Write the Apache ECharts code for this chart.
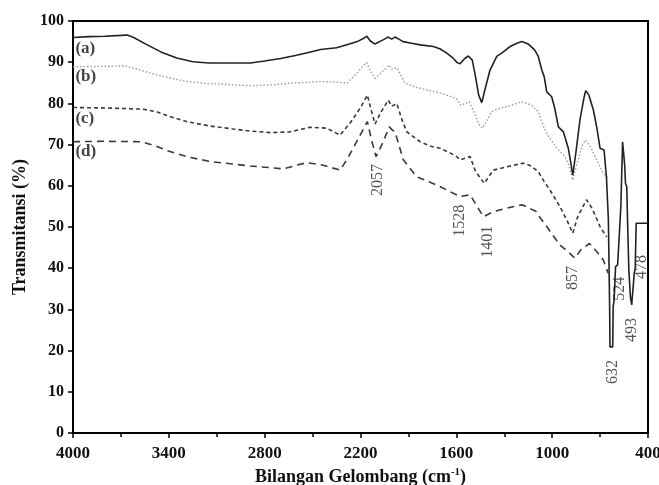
<!DOCTYPE html>
<html>
<head>
<meta charset="utf-8">
<script src="https://cdn.jsdelivr.net/npm/echarts@6/dist/echarts.min.js"></script>
<style>html,body{margin:0;padding:0;background:#fff}#c{width:659px;height:485px}</style>
</head>
<body>
<div id="c"></div>
<script>
// wavenumber (cm^-1) and transmittance (%) for each spectrum
const waveA = [4000,3900,3800,3700,3660,3620,3550,3450,3350,3250,3150,3000,2890,2800,2700,2600,2500,2450,2350,2280,2220,2180,2160,2140,2110,2080,2050,2026,2005,1984,1960,1934,1880,1827,1744,1700,1660,1620,1598,1577,1550,1525,1500,1480,1460,1441,1420,1389,1347,1316,1264,1220,1191,1149,1110,1087,1065,1050,1034,1003,985,961,930,899,885,871,850,826,800,790,770,742,720,700,675,660,648,640,638,621,618,612,603,590,580,570,559,553,546,541,533,527,520,510,502,494,486,480,474,400];
const valA  = [96.0,96.2,96.3,96.5,96.6,96.0,94.5,92.5,91.0,90.1,89.8,89.8,89.8,90.3,90.9,91.7,92.6,93.1,93.5,94.3,95.0,95.8,96.3,95.2,94.4,95.0,95.6,96.1,95.6,96.1,95.6,95.0,94.6,94.2,93.8,93.2,92.2,91.0,90.0,89.6,90.8,91.5,90.5,86.5,82.0,80.2,83.5,88.1,91.4,92.2,93.8,94.6,95.0,94.4,93.0,91.4,88.1,86.5,82.8,81.6,79.0,74.3,73.1,69.1,66.0,62.6,68.5,76.0,81.5,83.1,82.0,78.4,74.0,69.1,68.7,62.0,51.7,30.0,20.9,20.9,30.7,32.3,40.4,40.8,41.2,55.0,70.7,70.7,65.0,60.6,59.8,50.0,39.6,33.0,31.1,30.7,38.8,40.0,50.9,50.9];

const waveB = [4000,3800,3674,3600,3500,3400,3300,3184,3000,2892,2750,2641,2454,2350,2286,2223,2180,2161,2140,2109,2070,2020,2005,1973,1950,1921,1850,1786,1700,1660,1600,1573,1519,1490,1460,1435,1400,1379,1327,1260,1191,1129,1087,1060,1034,972,920,895,871,840,810,790,760,732,680,650];
const valB  = [88.9,89.0,89.1,88.3,87.2,86.2,85.4,84.9,84.5,84.3,84.5,84.9,85.3,85.2,84.9,87.3,89.3,89.9,88.0,86.1,87.5,89.3,88.3,88.7,87.0,84.9,83.9,83.3,82.5,82.0,81.2,79.5,80.4,78.0,75.0,74.0,76.5,78.0,78.8,79.5,80.4,79.6,78.0,75.0,72.7,69.1,67.1,65.0,61.4,66.0,70.0,71.1,69.5,67.1,63.0,61.8];

const waveC = [4000,3800,3560,3480,3393,3280,3142,3000,2892,2760,2641,2516,2412,2328,2260,2200,2157,2130,2109,2070,2026,2005,1973,1940,1910,1827,1760,1702,1640,1598,1577,1514,1480,1425,1369,1285,1181,1130,1087,1050,1014,951,900,871,840,785,750,700,659];
const valC  = [79.0,78.9,78.6,78.0,76.8,75.5,74.5,73.8,73.3,72.9,73.1,74.2,74.0,72.3,75.5,79.0,82.0,78.0,75.0,78.0,80.8,79.3,80.0,76.0,73.1,70.7,69.6,69.1,68.0,67.1,66.3,67.1,63.5,60.6,63.8,64.6,65.5,64.8,63.4,61.0,59.0,54.9,51.0,48.5,52.5,56.6,54.5,50.1,47.6];

const waveD = [4000,3800,3570,3480,3393,3280,3142,3000,2892,2760,2683,2600,2537,2433,2328,2286,2220,2157,2130,2103,2060,2020,2000,1984,1932,1848,1723,1619,1577,1514,1470,1431,1369,1280,1201,1181,1097,1080,1034,951,889,857,820,767,720,680,650];
const valD  = [70.7,70.8,70.7,69.6,68.3,67.0,65.9,65.3,64.8,64.4,64.1,65.0,65.6,65.0,63.8,66.3,71.0,75.6,71.0,67.1,70.5,74.3,73.5,73.1,66.3,62.2,60.2,58.2,57.4,57.8,55.0,52.5,53.7,54.6,55.3,55.3,53.7,52.5,50.1,45.6,43.6,42.4,44.5,46.0,44.0,42.0,38.8];

// peak annotations: text, anchor wavenumber, anchor transmittance
const peakText = ['2057','1528','1401','857','632','524','493','478'];
const peakWave = [2090,1581,1400,868,621,575,502,439];
const peakVal  = [61.4,51.5,46.4,37.6,14.8,35.0,25.0,40.3];

// sample letters
const sampleText = ['(a)','(b)','(c)','(d)'];
const sampleWave = [3985,3985,3985,3985];
const sampleVal  = [93.4,86.6,76.2,68.2];

const xTicks = [0,600,1200,1800,2400,3000,3600];
const yTicks = [0,10,20,30,40,50,60,70,80,90,100];

const toX = w => 4000 - w;
const pairs = (ws, vs) => ws.map((w, i) => [toX(w), vs[i]]);

const FONT = '"Liberation Serif","Times New Roman",serif';
const chart = echarts.init(document.getElementById('c'), null, {renderer: 'canvas'});

function lineSeries(name, ws, vs, color, type, width) {
  return {
    name, type: 'line', data: pairs(ws, vs), showSymbol: false, symbol: 'none',
    lineStyle: {color, type, width}, z: 3, animation: false
  };
}

chart.setOption({
  animation: false,
  backgroundColor: '#fff',
  grid: {left: 73, right: 11, top: 21, bottom: 52, containLabel: false, outerBoundsMode: 'none',
    show: true, borderColor: '#000', borderWidth: 2, backgroundColor: 'transparent'},
  xAxis: {
    type: 'value', min: xTicks[0], max: xTicks[xTicks.length - 1], interval: 600,
    axisLine: {lineStyle: {color: '#000', width: 2}},
    axisTick: {show: true, length: 5, lineStyle: {color: '#000', width: 1.5}},
    minorTick: {show: true, splitNumber: 2, length: 4, lineStyle: {color: '#000', width: 1.5}},
    splitLine: {show: false},
    axisLabel: {formatter: v => String(4000 - v), fontFamily: FONT, fontWeight: 'bold', fontSize: 17, color: '#111', margin: 12},
    name: '{t|Bilangan Gelombang (cm}{s|-1}{t|)}',
    nameLocation: 'middle', nameGap: 31,
    nameTextStyle: {
      rich: {
        t: {fontFamily: FONT, fontWeight: 'bold', fontSize: 18, color: '#111', lineHeight: 20},
        s: {fontFamily: FONT, fontWeight: 'bold', fontSize: 11, color: '#111', lineHeight: 12, verticalAlign: 'top'}
      }
    }
  },
  yAxis: {
    type: 'value', min: 0, max: 100, interval: 10,
    axisLine: {show: true, lineStyle: {color: '#000', width: 2}},
    axisTick: {show: true, length: 5, lineStyle: {color: '#000', width: 1.5}},
    splitLine: {show: false},
    axisLabel: {fontFamily: FONT, fontWeight: 'bold', fontSize: 16, color: '#111', margin: 9},
    name: 'Transmitansi (%)', nameLocation: 'middle', nameGap: 43,
    nameTextStyle: {fontFamily: FONT, fontWeight: 'bold', fontSize: 18, color: '#111'}
  },
  series: [
    lineSeries('(d)', waveD, valD, '#3a3a3a', [7, 5], 1.6),
    lineSeries('(c)', waveC, valC, '#3a3a3a', [4, 3], 1.6),
    lineSeries('(b)', waveB, valB, '#9a9a9a', [1.5, 2], 1.4),
    lineSeries('(a)', waveA, valA, '#222', 'solid', 1.6),
    {
      type: 'scatter', symbolSize: 0, z: 5, silent: true,
      data: peakText.map((t, i) => ({name: t, value: [toX(peakWave[i]), peakVal[i]]})),
      label: {show: true, formatter: p => p.name, rotate: 90, position: 'inside', align: 'center', verticalAlign: 'middle',
        fontFamily: FONT, fontSize: 16, color: '#2a2a2a'}
    },
    {
      type: 'scatter', symbolSize: 0, z: 5, silent: true,
      data: sampleText.map((t, i) => ({name: t, value: [toX(sampleWave[i]), sampleVal[i]]})),
      label: {show: true, formatter: p => p.name, position: 'inside', align: 'left', verticalAlign: 'middle',
        fontFamily: FONT, fontWeight: 'bold', fontSize: 17, color: '#111'}
    }
  ]
});
</script>
</body>
</html>
